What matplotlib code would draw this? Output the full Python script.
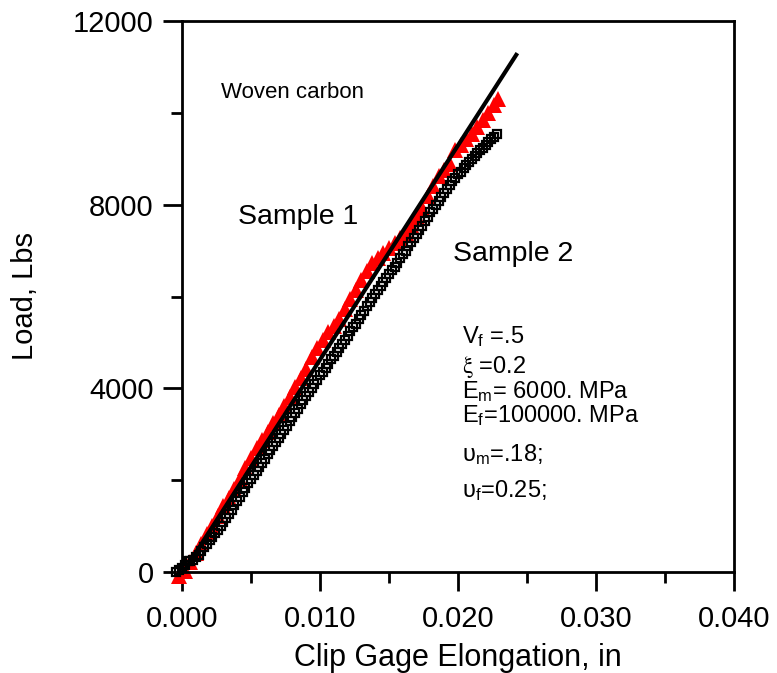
import matplotlib
matplotlib.use("Agg")
import matplotlib.pyplot as plt
from matplotlib.ticker import MultipleLocator

plt.rcParams['font.family'] = ['Liberation Sans', 'DejaVu Sans']
plt.rcParams['mathtext.fontset'] = 'custom'
plt.rcParams['mathtext.rm'] = 'Liberation Sans'
plt.rcParams['mathtext.it'] = 'Liberation Sans:italic'

# Sample 1 (red triangles)
s1_x = [-0.0002, 0.0002, 0.0006, 0.0010, 0.0014, 0.0018, 0.0022, 0.0026, 0.0030, 0.0034,
        0.0038, 0.0042, 0.0046, 0.0050, 0.0054, 0.0058, 0.0062, 0.0066, 0.0070, 0.0074,
        0.0078, 0.0082, 0.0086, 0.0090, 0.0094, 0.0098, 0.0102, 0.0106, 0.0110, 0.0114,
        0.0118, 0.0122, 0.0126, 0.0130, 0.0134, 0.0138, 0.0142, 0.0146, 0.0150, 0.0154,
        0.0158, 0.0162, 0.0166, 0.0170, 0.0174, 0.0178, 0.0182, 0.0186, 0.0190, 0.0194,
        0.0198, 0.0202, 0.0206, 0.0210, 0.0214, 0.0218, 0.0222, 0.0226, 0.0229]
s1_load = [-80, 30, 220, 420, 620, 820, 1010, 1220, 1430, 1610,
           1800, 2020, 2270, 2490, 2700, 2880, 3050, 3250, 3430, 3620,
           3820, 4030, 4230, 4420, 4680, 4880, 5060, 5220, 5360, 5500,
           5720, 5940, 6150, 6360, 6560, 6720, 6840, 6950, 7060, 7170,
           7280, 7390, 7560, 7740, 7930, 8180, 8400, 8620, 8750, 8880,
           9180, 9300, 9420, 9540, 9690, 9840, 10000, 10180, 10300]

# Sample 2 (open squares)
s2_x = [-0.0004, -0.0002, 0.0000, 0.0002, 0.0004, 0.0006, 0.0008, 0.0010, 0.0012, 0.0014,
        0.0016, 0.0018, 0.0020, 0.0022, 0.0024, 0.0026, 0.0028, 0.0030, 0.0032, 0.0034,
        0.0036, 0.0038, 0.0040, 0.0042, 0.0044, 0.0046, 0.0048, 0.0050, 0.0052, 0.0054,
        0.0056, 0.0058, 0.0060, 0.0062, 0.0064, 0.0066, 0.0068, 0.0070, 0.0072, 0.0074,
        0.0076, 0.0078, 0.0080, 0.0082, 0.0084, 0.0086, 0.0088, 0.0090, 0.0092, 0.0094,
        0.0096, 0.0098, 0.0100, 0.0102, 0.0104, 0.0106, 0.0108, 0.0110, 0.0112, 0.0114,
        0.0116, 0.0118, 0.0120, 0.0122, 0.0124, 0.0126, 0.0128, 0.0130, 0.0132, 0.0134,
        0.0136, 0.0138, 0.0140, 0.0142, 0.0144, 0.0146, 0.0148, 0.0150, 0.0152, 0.0154,
        0.0156, 0.0158, 0.0160, 0.0162, 0.0164, 0.0166, 0.0168, 0.0170, 0.0172, 0.0174,
        0.0176, 0.0178, 0.0180, 0.0182, 0.0184, 0.0186, 0.0188, 0.0190, 0.0192, 0.0194,
        0.0196, 0.0198, 0.0200, 0.0202, 0.0204, 0.0206, 0.0208, 0.0210, 0.0212, 0.0214,
        0.0216, 0.0218, 0.0220, 0.0222, 0.0224, 0.0226, 0.0228]
s2_load = [0, 40, 90, 160, 230, 250, 260, 320, 380, 460,
           540, 610, 690, 770, 850, 920, 1000, 1090, 1180, 1270,
           1360, 1450, 1550, 1640, 1740, 1830, 1930, 2020, 2110, 2200,
           2290, 2380, 2470, 2570, 2660, 2750, 2840, 2920, 3010, 3100,
           3190, 3280, 3370, 3460, 3560, 3650, 3740, 3830, 3920, 4000,
           4090, 4180, 4280, 4360, 4450, 4540, 4630, 4710, 4790, 4870,
           4960, 5060, 5150, 5240, 5330, 5410, 5500, 5600, 5690, 5790,
           5880, 5970, 6060, 6140, 6230, 6310, 6400, 6480, 6570, 6650,
           6740, 6830, 6920, 7000, 7090, 7180, 7270, 7360, 7450, 7540,
           7640, 7740, 7830, 7910, 8000, 8080, 8170, 8250, 8340, 8430,
           8510, 8590, 8660, 8720, 8790, 8860, 8930, 9000, 9060, 9130,
           9190, 9240, 9300, 9360, 9420, 9480, 9540]

# model line
fit_x = [0.0001, 0.0243]
fit_load = [0, 11300]

params = ['V$_\\mathrm{f}$ =.5', '$\\mathrm{\\xi}$ =0.2', 'E$_\\mathrm{m}$= 6000. MPa',
          'E$_\\mathrm{f}$=100000. MPa', 'υ$_\\mathrm{m}$=.18;', 'υ$_\\mathrm{f}$=0.25;']
param_y = [337, 367, 392, 416, 455, 491]   # pixel rows of the text block

W, H = 777, 673
fig = plt.figure(figsize=(W / 100, H / 100), dpi=100)
ax = fig.add_axes([182 / W, 1 - 572 / H, 552 / W, 551 / H])

ax.plot(s1_x, s1_load, linestyle='none', marker='^', markersize=11,
        color='#ff0000', markeredgewidth=0, clip_on=False, zorder=2)
ax.plot(s2_x, s2_load, linestyle='none', marker='s', markersize=5.4,
        markerfacecolor='none', markeredgecolor='black', markeredgewidth=1.6,
        clip_on=False, zorder=3)
ax.plot(fit_x, fit_load, color='black', linewidth=3, solid_capstyle='butt',
        clip_on=False, zorder=4)

ax.set_xlim(0, 0.04)
ax.set_ylim(0, 12000)
ax.xaxis.set_major_locator(MultipleLocator(0.01))
ax.xaxis.set_minor_locator(MultipleLocator(0.005))
ax.yaxis.set_major_locator(MultipleLocator(4000))
ax.yaxis.set_minor_locator(MultipleLocator(2000))
ax.xaxis.set_major_formatter(plt.FuncFormatter(lambda v, p: f'{v:.3f}'))

ax.tick_params(which='both', direction='out', width=2, labelsize=21, top=False, right=False)
ax.tick_params(which='major', length=13.5)
ax.tick_params(which='minor', length=8)
ax.tick_params(axis='x', which='major', pad=10)
ax.tick_params(axis='y', which='major', pad=7)
for s in ax.spines.values():
    s.set_linewidth(2)

ax.set_xlabel('Clip Gage Elongation, in', fontsize=22)
ax.set_ylabel('Load, Lbs', fontsize=21)
ax.xaxis.set_label_coords(0.5, -0.128)
ax.yaxis.set_label_coords(-0.259, 0.5)

fig.text(221 / W, 1 - 92.5 / H, 'Woven carbon', fontsize=16, va='center')
fig.text(238 / W, 1 - 217 / H, 'Sample 1', fontsize=20.5, va='center')
fig.text(453 / W, 1 - 254 / H, 'Sample 2', fontsize=20.5, va='center')

for txt, py in zip(params, param_y):
    kw = {}
    if 'xi' in txt:
        kw['math_fontfamily'] = 'stix'
    fig.text(462 / W, 1 - py / H, txt, fontsize=17, va='center', **kw)

fig.savefig('out.png', dpi=100)
